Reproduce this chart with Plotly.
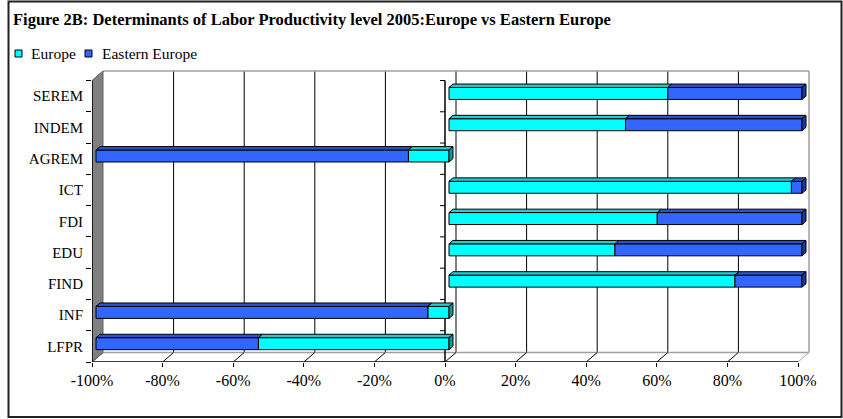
import plotly.graph_objects as go

# ---- data: share of each region in the determinant (100% stacked) ----
categories = ["LFPR", "INF", "FIND", "EDU", "FDI", "ICT", "AGREM", "INDEM", "SEREM"]
europe = [-54, -6, 81, 47, 59, 97, -11.5, 50, 62]
eastern_europe = [-46, -94, 19, 53, 41, 3, -88.5, 50, 38]
x_tick_values = [-100, -80, -60, -40, -20, 0, 20, 40, 60, 80, 100]
x_tick_labels = ["-100%", "-80%", "-60%", "-40%", "-20%", "0%",
                 "20%", "40%", "60%", "80%", "100%"]

# ---- canvas geometry (pixels) ----
FIG_W, FIG_H = 843, 419
PAD = 2                      # room so the back-wall edges are not clipped
M_L, M_R, M_T, M_B = 92, 34 - PAD, 71 - PAD, 57
PW = FIG_W - M_L - M_R
PH = FIG_H - M_T - M_B
DEPTH_X, DEPTH_Y = 11, 9.5   # oblique depth of the walls

n = len(categories)
KX = (PW - DEPTH_X - PAD) / 200.0          # px per percent
KY = (PH - DEPTH_Y - PAD) / n              # px per category
DXU, DYU = DEPTH_X / KX, DEPTH_Y / KY
X_MIN, X_MAX = -100, 100 + (DEPTH_X + PAD) / KX
Y_MIN, Y_MAX = -0.5, n - 0.5 + (DEPTH_Y + PAD) / KY
Y_FRONT_TOP = n - 0.5
Y_BACK_TOP = Y_FRONT_TOP + DYU
Y_BACK_BOT = -0.5 + DYU

# bar solids
BAR_SHIFT_X = 4 / KX
BAR_SHIFT_Y = 2.7 / KY
BAR_W = 12 / KY
BAR_DX, BAR_DY = 4 / KX, 3.4 / KY

CYAN, CYAN_TOP, CYAN_SIDE = "#00FFFF", "#1FCFCF", "#009C9C"
BLUE, BLUE_TOP, BLUE_SIDE = "#3366FF", "#2A52CC", "#1C3A99"
SERIF = "Liberation Serif"

ypos = [i + BAR_SHIFT_Y for i in range(n)]
base_eu = [BAR_SHIFT_X] * n
base_ee = [BAR_SHIFT_X + v for v in europe]

fig = go.Figure()
fig.add_trace(go.Bar(
    name="Europe", y=ypos, x=europe, base=base_eu, orientation="h",
    width=BAR_W, marker=dict(color=CYAN, line=dict(color="black", width=1)),
    showlegend=False,
))
fig.add_trace(go.Bar(
    name="Eastern Europe", y=ypos, x=eastern_europe, base=base_ee, orientation="h",
    width=BAR_W, marker=dict(color=BLUE, line=dict(color="black", width=1)),
    showlegend=False,
))

shapes = []


def poly(pts, fill, line="black", width=1, layer="above"):
    d = "M " + " L ".join(f"{x:.4f},{y:.4f}" for x, y in pts) + " Z"
    shapes.append(dict(type="path", path=d, xref="x", yref="y", layer=layer,
                       fillcolor=fill, line=dict(color=line, width=width)))


def seg(x0, y0, x1, y1, color="black", width=1, layer="below"):
    shapes.append(dict(type="line", x0=x0, y0=y0, x1=x1, y1=y1, xref="x", yref="y",
                       layer=layer, line=dict(color=color, width=width)))


# back wall grid lines and edges
for v in x_tick_values[1:-1]:
    seg(v + DXU, Y_BACK_BOT, v + DXU, Y_BACK_TOP, "black", 1)
seg(-100 + DXU, Y_BACK_TOP, 100 + DXU, Y_BACK_TOP, "#A0A0A0", 1.5)
seg(100 + DXU, Y_BACK_BOT, 100 + DXU, Y_BACK_TOP, "#A0A0A0", 1.5)
seg(-100 + DXU, Y_BACK_BOT, 100 + DXU, Y_BACK_BOT, "#A0A0A0", 1.5)
# floor depth lines at every tick
for v in x_tick_values:
    seg(v, -0.5, v + DXU, Y_BACK_BOT, "#A0A0A0" if v == 100 else "black", 1)
# front floor edge
seg(-100, -0.5, 100, -0.5, "black", 1.5)
# left side wall
poly([(-100, -0.5), (-100, Y_FRONT_TOP), (-100 + DXU, Y_BACK_TOP), (-100 + DXU, Y_BACK_BOT)],
     "#808080", "#606060", 1, layer="below")
seg(-100, -0.5, -100, Y_FRONT_TOP, "black", 1.5)
# category axis crossing at 0%
seg(0, -0.5, 0, Y_FRONT_TOP, "black", 1.5)
for k in range(n + 1):
    seg(-5 / KX, k - 0.5, 0, k - 0.5, "black", 1)

# top and side faces of the stacked bars
for i in range(n):
    yc = ypos[i]
    yt, yb = yc + BAR_W / 2, yc - BAR_W / 2
    segs = [(base_eu[i], base_eu[i] + europe[i], CYAN_TOP),
            (base_ee[i], base_ee[i] + eastern_europe[i], BLUE_TOP)]
    segs = [(min(a, b), max(a, b), c) for a, b, c in segs]
    segs.sort(key=lambda s: s[0])
    for xa, xb, col in segs:
        poly([(xa, yt), (xb, yt), (xb + BAR_DX, yt + BAR_DY), (xa + BAR_DX, yt + BAR_DY)], col)
    right = max(segs, key=lambda s: s[1])
    xr = right[1]
    side_col = CYAN_SIDE if right[2] == CYAN_TOP else BLUE_SIDE
    poly([(xr, yb), (xr, yt), (xr + BAR_DX, yt + BAR_DY), (xr + BAR_DX, yb + BAR_DY)], side_col)


# ---- pixel helpers for paper-referenced decoration ----
def px_x(px):
    return (px - M_L) / PW


def px_y(py):
    return (M_T + PH - py) / PH


# chart frame
shapes.append(dict(type="rect", xref="paper", yref="paper",
                   x0=px_x(8.5), x1=px_x(841.5), y0=px_y(1.5), y1=px_y(417),
                   line=dict(color="#202020", width=2), layer="above"))

# legend keys
legend_items = [("Europe", CYAN, 15, 29), ("Eastern Europe", BLUE, 85, 100)]
annotations = []
for label, col, sx, tx in legend_items:
    shapes.append(dict(type="rect", xref="paper", yref="paper",
                       x0=px_x(sx), x1=px_x(sx + 7), y0=px_y(57), y1=px_y(50),
                       fillcolor=col, line=dict(color="black", width=1), layer="above"))
    annotations.append(dict(text=label, xref="paper", yref="paper", x=px_x(tx), y=px_y(53.5),
                            xanchor="left", yanchor="middle", showarrow=False,
                            font=dict(family=SERIF, size=15.5, color="black")))

fig.update_layout(
    width=FIG_W, height=FIG_H,
    margin=dict(l=M_L, r=M_R, t=M_T, b=M_B),
    paper_bgcolor="white", plot_bgcolor="white",
    font=dict(family=SERIF, color="black"),
    barmode="overlay",
    title=dict(text="<b>Figure 2B: Determinants of Labor Productivity level 2005:Europe vs Eastern Europe</b>",
               xref="container", yref="container", x=13 / FIG_W, y=1 - 19 / FIG_H,
               xanchor="left", yanchor="middle",
               font=dict(family=SERIF, size=16.5, color="black")),
    xaxis=dict(range=[X_MIN, X_MAX], tickvals=x_tick_values, ticktext=x_tick_labels,
               showgrid=False, zeroline=False, showline=False,
               ticks="outside", ticklen=4, tickcolor="black",
               tickfont=dict(family=SERIF, size=16, color="black"), fixedrange=True),
    yaxis=dict(range=[Y_MIN, Y_MAX], tickvals=list(range(n)), ticktext=categories,
               showgrid=False, zeroline=False, showline=False,
               ticks="outside", ticklen=5, tickcolor="rgba(0,0,0,0)",
               minor=dict(tick0=-0.5, dtick=1, ticks="outside", ticklen=5,
                          tickcolor="black", showgrid=False),
               tickfont=dict(family=SERIF, size=15, color="black"), fixedrange=True),
    shapes=shapes,
    annotations=annotations,
    hovermode=False,
)

fig.write_html("out.html")
